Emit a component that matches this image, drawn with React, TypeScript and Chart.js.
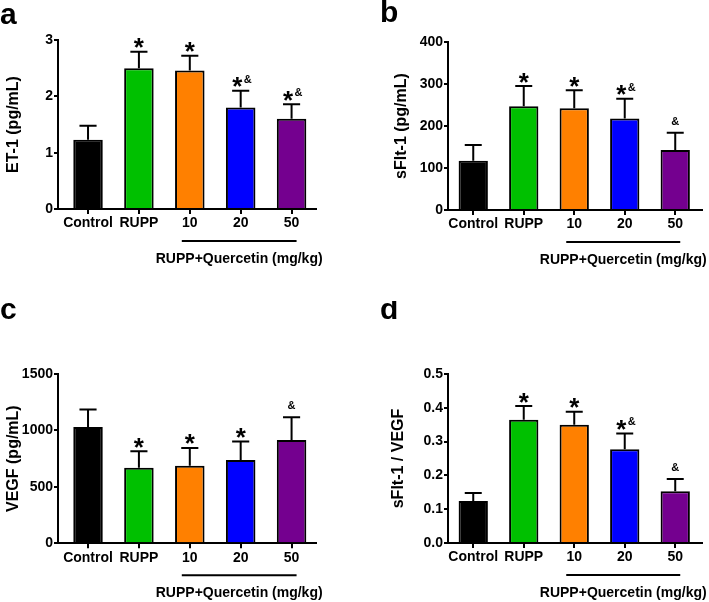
import React, { useEffect, useRef } from "react";
import { Chart, registerables } from "chart.js";

Chart.register(...registerables);

const categories = ["Control", "RUPP", "10", "20", "50"];
const barColors = ["#000000", "#00C000", "#FF8000", "#0000FF", "#74008F"];
const groupLabel = "RUPP+Quercetin (mg/kg)";

const et1Values = [1.23, 2.5, 2.46, 1.8, 1.6];
const et1Errors = [0.25, 0.29, 0.26, 0.3, 0.26];
const et1Stars = [false, true, true, true, true];
const et1Amps = [false, false, false, true, true];

const sflt1Values = [117, 247, 242, 218, 143];
const sflt1Errors = [38, 48, 43, 47, 41];
const sflt1Stars = [false, true, true, true, false];
const sflt1Amps = [false, false, false, true, true];

const vegfValues = [1031, 669, 686, 739, 916];
const vegfErrors = [154, 147, 159, 163, 201];
const vegfStars = [false, true, true, true, false];
const vegfAmps = [false, false, false, false, true];

const ratioValues = [0.124, 0.365, 0.35, 0.277, 0.153];
const ratioErrors = [0.024, 0.04, 0.038, 0.047, 0.036];
const ratioStars = [false, true, true, true, false];
const ratioAmps = [false, false, false, true, true];

const FONT = '"Liberation Sans", Arial, sans-serif';

type PanelProps = {
  letter: string;
  letterX: number;
  letterY: number;
  title: string;
  titlePad: number;
  values: number[];
  errors: number[];
  stars: boolean[];
  amps: boolean[];
  yMax: number;
  yStep: number;
  decimals: number;
  axisX: number;
  top: number;
  bottom: number;
  rightPad: number;
  xMin: number;
  xMax: number;
  left: number;
  topPos: number;
  width: number;
  height: number;
};

function Panel(p: PanelProps) {
  const ref = useRef<HTMLCanvasElement | null>(null);
  useEffect(() => {
    if (!ref.current) return;
    const plugin = {
      id: "annot",
      afterDatasetsDraw(chart: any) {
        const ctx = chart.ctx;
        const meta = chart.getDatasetMeta(0);
        const ys = chart.scales.y;
        ctx.save();
        meta.data.forEach((bar: any, i: number) => {
          const x = bar.x;
          const w = bar.width;
          const capY = ys.getPixelForValue(p.values[i] + p.errors[i]);
          ctx.strokeStyle = "#000";
          ctx.lineWidth = 2;
          ctx.beginPath();
          ctx.moveTo(x, bar.y);
          ctx.lineTo(x, capY);
          ctx.moveTo(x - w * 0.29, capY);
          ctx.lineTo(x + w * 0.29, capY);
          ctx.stroke();
          ctx.fillStyle = "#000";
          ctx.textBaseline = "alphabetic";
          ctx.textAlign = "center";
          const starFont = `bold 26px ${FONT}`;
          const ampFont = `bold 11px ${FONT}`;
          if (p.stars[i] && p.amps[i]) {
            ctx.font = starFont;
            ctx.fillText("*", x - 3.5, capY + 4.5);
            ctx.font = ampFont;
            ctx.fillText("&", x + 7, capY - 8);
          } else if (p.stars[i]) {
            ctx.font = starFont;
            ctx.fillText("*", x, capY + 4.5);
          } else if (p.amps[i]) {
            ctx.font = ampFont;
            ctx.fillText("&", x, capY - 8);
          }
        });
        ctx.restore();
      },
      afterDraw(chart: any) {
        const ctx = chart.ctx;
        const xs = chart.scales.x;
        const area = chart.chartArea;
        ctx.save();
        ctx.fillStyle = "#000";
        ctx.textAlign = "left";
        ctx.textBaseline = "alphabetic";
        ctx.font = `bold 30px ${FONT}`;
        ctx.fillText(p.letter, p.letterX, p.letterY);
        const x1 = xs.getPixelForValue(2) - 8;
        const x2 = xs.getPixelForValue(4) + 5;
        const ly = area.bottom + 32;
        ctx.strokeStyle = "#000";
        ctx.lineWidth = 2;
        ctx.beginPath();
        ctx.moveTo(x1, ly);
        ctx.lineTo(x2, ly);
        ctx.stroke();
        ctx.font = `bold 14px ${FONT}`;
        ctx.textAlign = "center";
        ctx.fillText(groupLabel, (x1 + x2) / 2, area.bottom + 54);
        ctx.restore();
      },
    };
    const tickFont = { family: FONT, size: 14, weight: "bold" as const };
    const chart = new Chart(ref.current, {
      type: "bar",
      data: {
        datasets: [
          {
            data: p.values.map((v, i) => ({ x: i, y: v })),
            backgroundColor: barColors,
            borderColor: "#000",
            borderWidth: 2,
            barPercentage: 0.58,
            categoryPercentage: 1,
          },
        ],
      },
      options: {
        responsive: false,
        maintainAspectRatio: false,
        animation: false,
        events: [],
        layout: { padding: { left: 0, right: p.rightPad, top: p.top, bottom: 0 } },
        plugins: { legend: { display: false }, tooltip: { enabled: false } },
        scales: {
          x: {
            type: "linear",
            min: p.xMin,
            max: p.xMax,
            offset: false,
            afterFit: (s: any) => {
              s.height = p.height - p.bottom;
            },
            grid: {
              display: true,
              offset: false,
              drawOnChartArea: false,
              drawTicks: true,
              tickLength: 5,
              color: "#000",
              lineWidth: 2,
            },
            border: { display: true, color: "#000", width: 2 },
            ticks: {
              stepSize: 1,
              includeBounds: false,
              autoSkip: false,
              maxRotation: 0,
              padding: 1,
              color: "#000",
              font: tickFont,
              callback: (v: any) => categories[v as number] ?? "",
            },
          },
          y: {
            min: 0,
            max: p.yMax,
            afterFit: (s: any) => {
              s.width = p.axisX;
            },
            grid: {
              display: true,
              drawOnChartArea: false,
              drawTicks: true,
              tickLength: 4,
              color: "#000",
              lineWidth: 2,
            },
            border: { display: true, color: "#000", width: 2 },
            ticks: {
              stepSize: p.yStep,
              padding: 1,
              color: "#000",
              font: tickFont,
              callback: (v: any) => Number(v).toFixed(p.decimals),
            },
            title: {
              display: true,
              text: p.title,
              color: "#000",
              font: { family: FONT, size: 16, weight: "bold" as const },
              padding: { top: p.titlePad, bottom: 0 },
            },
          },
        },
      } as any,
      plugins: [plugin],
    });
    return () => chart.destroy();
  }, []);
  return (
    <canvas
      ref={ref}
      width={p.width}
      height={p.height}
      style={{
        position: "absolute",
        left: p.left,
        top: p.topPos,
        width: p.width,
        height: p.height,
      }}
    />
  );
}

export default function App() {
  return (
    <div
      style={{
        position: "absolute",
        left: 0,
        top: 0,
        width: 709,
        height: 602,
        background: "#fff",
        overflow: "hidden",
      }}
    >
      <Panel
        letter="a"
        letterX={0}
        letterY={24}
        title="ET-1 (pg/mL)"
        titlePad={4.4}
        values={et1Values}
        errors={et1Errors}
        stars={et1Stars}
        amps={et1Amps}
        yMax={3}
        yStep={1}
        decimals={0}
        axisX={58}
        top={40}
        bottom={209}
        rightPad={38}
        xMin={-0.59}
        xMax={4.48}
        left={0}
        topPos={0}
        width={354}
        height={301}
      />
      <Panel
        letter="b"
        letterX={26}
        letterY={22}
        title="sFlt-1 (pg/mL)"
        titlePad={38}
        values={sflt1Values}
        errors={sflt1Errors}
        stars={sflt1Stars}
        amps={sflt1Amps}
        yMax={400}
        yStep={100}
        decimals={0}
        axisX={94}
        top={42}
        bottom={210}
        rightPad={7}
        xMin={-0.5}
        xMax={4.53}
        left={354}
        topPos={0}
        width={355}
        height={301}
      />
      <Panel
        letter="c"
        letterX={0}
        letterY={18}
        title="VEGF (pg/mL)"
        titlePad={4.4}
        values={vegfValues}
        errors={vegfErrors}
        stars={vegfStars}
        amps={vegfAmps}
        yMax={1500}
        yStep={500}
        decimals={0}
        axisX={58}
        top={73}
        bottom={242.3}
        rightPad={38}
        xMin={-0.59}
        xMax={4.48}
        left={0}
        topPos={301}
        width={354}
        height={301}
      />
      <Panel
        letter="d"
        letterX={26}
        letterY={18}
        title="sFlt-1 / VEGF"
        titlePad={35}
        values={ratioValues}
        errors={ratioErrors}
        stars={ratioStars}
        amps={ratioAmps}
        yMax={0.5}
        yStep={0.1}
        decimals={1}
        axisX={94}
        top={73}
        bottom={242}
        rightPad={7}
        xMin={-0.5}
        xMax={4.53}
        left={354}
        topPos={301}
        width={355}
        height={301}
      />
    </div>
  );
}
